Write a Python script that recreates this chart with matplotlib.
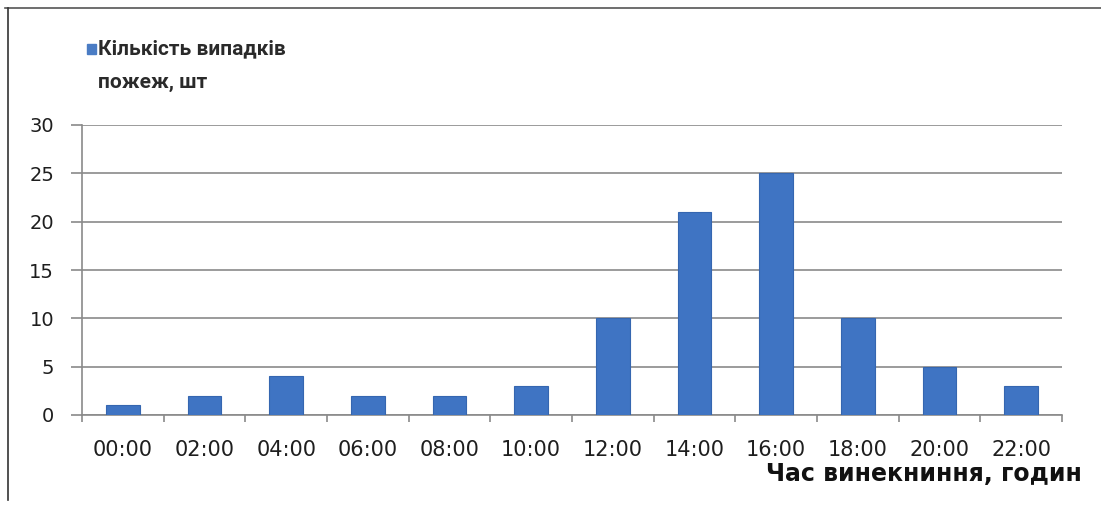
import matplotlib
matplotlib.use("Agg")
import matplotlib.pyplot as plt
from matplotlib.lines import Line2D
import numpy as np

hours = ["00:00", "02:00", "04:00", "06:00", "08:00", "10:00",
         "12:00", "14:00", "16:00", "18:00", "20:00", "22:00"]
fires = [1, 2, 4, 2, 2, 3, 10, 21, 25, 10, 5, 3]
y_ticks = [0, 5, 10, 15, 20, 25, 30]
legend_lines = ["Кількість випадків", "пожеж, шт"]
x_title = "Час винекниння, годин"

bar_color = "#3F74C3"
grid_color = "#8A8A8A"
text_color = "#1E1E1E"

fig = plt.figure(figsize=(11.01, 5.19), dpi=100)
ax = fig.add_axes([82 / 1101, 1 - 415 / 519, (1062 - 82) / 1101, (415 - 125) / 519])

x = np.arange(len(hours))
ax.bar(x, fires, width=0.41, color=bar_color, edgecolor="#3566B0", linewidth=0.8, zorder=3)

ax.set_xlim(-0.5, len(hours) - 0.5)
ax.set_ylim(0, 30)
ax.set_yticks(y_ticks)
ax.set_yticklabels([str(v) for v in y_ticks], fontsize=14, fontfamily="DejaVu Sans",
                   color=text_color)
ax.yaxis.grid(True, color=grid_color, linewidth=1.2, zorder=0)
ax.tick_params(axis="y", length=8, color=grid_color, width=1.2, pad=12)

ax.set_xticks(x)
ax.set_xticklabels(hours, fontsize=15, fontfamily="DejaVu Sans", color=text_color)
ax.set_xticks(np.arange(len(hours) + 1) - 0.5, minor=True)
ax.tick_params(axis="x", which="major", length=0, pad=18)
ax.tick_params(axis="x", which="minor", length=5, color=grid_color, width=1.2)

for side in ["top", "right"]:
    ax.spines[side].set_visible(False)
for side in ["left", "bottom"]:
    ax.spines[side].set_color(grid_color)
    ax.spines[side].set_linewidth(1.2)

fig.text(1082 / 1101, 1 - 474 / 519, x_title, ha="right", va="center",
         fontsize=17, fontweight="heavy", fontfamily="DejaVu Sans", color="#111111")

# legend: square marker plus two-line label
fig.patches.append(plt.Rectangle((87 / 1101, 1 - 54 / 519), 9 / 1101, 10 / 519,
                                 transform=fig.transFigure, color="#4A7CC4", figure=fig))
for text, ypix in zip(legend_lines, [49, 83]):
    fig.text(98 / 1101, 1 - ypix / 519, text, ha="left", va="center",
             fontsize=15, fontweight="bold", color="#2A2A2A", fontfamily="Roboto")

# outer frame lines
fig.add_artist(Line2D([5 / 1101, 1.0], [1 - 8 / 519, 1 - 8 / 519],
                      transform=fig.transFigure, color="#555555", linewidth=1.2))
fig.add_artist(Line2D([8 / 1101, 8 / 1101], [1 - 8 / 519, 1 - 500 / 519],
                      transform=fig.transFigure, color="#333333", linewidth=1.2))

fig.savefig("out.png", dpi=100, facecolor="white")
